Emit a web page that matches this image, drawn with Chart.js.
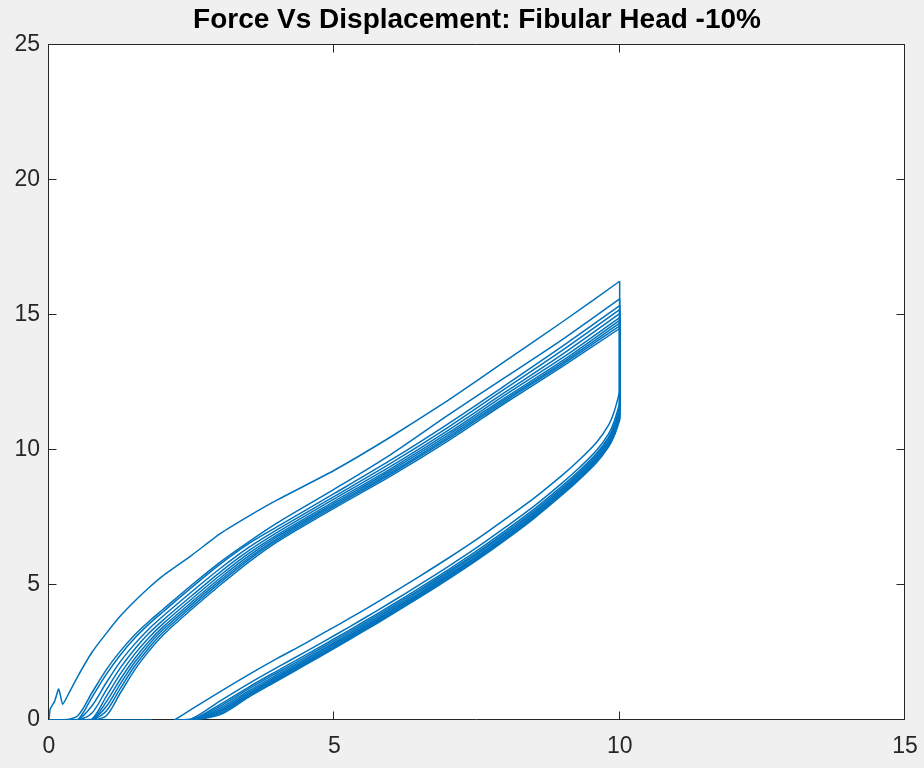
<!DOCTYPE html>
<html><head><meta charset="utf-8">
<script src="https://cdn.jsdelivr.net/npm/chart.js@4.4.0/dist/chart.umd.min.js"></script>
<style>html,body{margin:0;padding:0;background:#f0f0f0;}canvas{display:block;}</style>
</head><body>
<canvas id="c" width="924" height="768"></canvas>
<script>
const titleText = 'Force Vs Displacement: Fibular Head -10%';
const xTicks = [0, 5, 10, 15];
const yTicks = [0, 5, 10, 15, 20, 25];

// flat zero-force segment along the bottom
const zeroX = [0, 1.8];
const zeroY = [0, 0];

// cycle 1 loading (own x values, includes the initial spike)
const load1X = [0, 0.02, 0.1, 0.17, 0.24, 0.35, 0.5, 0.75, 1, 1.25, 1.5, 1.75, 2, 2.5, 3, 3.5, 4, 5, 6, 7, 8, 9, 10];
const load1Y = [0, 0.4, 0.7, 1.15, 0.58, 1.0, 1.6, 2.5, 3.2, 3.85, 4.4, 4.9, 5.35, 6.1, 6.9, 7.55, 8.15, 9.25, 10.5, 11.85, 13.3, 14.75, 16.25];

// loading branch, cycles 2-10 (common displacement grid)
const loadX   = [0, 0.25, 0.5, 0.75, 1, 1.25, 1.5, 1.75, 2, 2.5, 3, 3.5, 4, 5, 6, 7, 8, 9, 10];
const loadY2  = [0, 0, 0.15, 1.0, 1.85, 2.55, 3.15, 3.65, 4.1, 5.0, 5.85, 6.6, 7.3, 8.55, 9.85, 11.3, 12.7, 14.1, 15.6];
const loadY3  = [0, 0, 0, 0.83, 1.68, 2.41, 3.03, 3.55, 4.01, 4.91, 5.77, 6.53, 7.16, 8.39, 9.64, 10.98, 12.4, 13.85, 15.35];
const loadY4  = [0, 0, 0, 0.52, 1.37, 2.16, 2.81, 3.37, 3.85, 4.75, 5.61, 6.39, 7.05, 8.28, 9.52, 10.85, 12.28, 13.7, 15.2];
const loadY5  = [0, 0, 0, 0.25, 1.10, 1.93, 2.62, 3.21, 3.70, 4.60, 5.48, 6.27, 6.95, 8.19, 9.41, 10.74, 12.15, 13.55, 15.05];
const loadY6  = [0, 0, 0, 0.03, 0.86, 1.71, 2.44, 3.05, 3.57, 4.48, 5.36, 6.17, 6.86, 8.10, 9.32, 10.64, 12.05, 13.42, 14.9];
const loadY7  = [0, 0, 0, 0, 0.66, 1.51, 2.27, 2.91, 3.45, 4.37, 5.26, 6.08, 6.79, 8.03, 9.25, 10.56, 11.95, 13.31, 14.8];
const loadY8  = [0, 0, 0, 0, 0.49, 1.34, 2.13, 2.79, 3.35, 4.28, 5.17, 6.00, 6.72, 7.97, 9.18, 10.49, 11.88, 13.24, 14.7];
const loadY9  = [0, 0, 0, 0, 0.32, 1.17, 1.99, 2.67, 3.25, 4.19, 5.09, 5.93, 6.66, 7.91, 9.12, 10.42, 11.82, 13.17, 14.6];
const loadY10 = [0, 0, 0, 0, 0.15, 1.00, 1.85, 2.55, 3.15, 4.10, 5.00, 5.85, 6.60, 7.85, 9.05, 10.35, 11.75, 13.10, 14.5];

// unloading branch, cycles 1-10 (common displacement grid, decreasing)
const unloadX   = [10, 9.9, 9.8, 9.6, 9.3, 9, 8.5, 8, 7.5, 7, 6.5, 6, 5.5, 5, 4.5, 4, 3.5, 3, 2.5, 2.2];
const unloadY1  = [12.15, 11.4, 10.9, 10.3, 9.65, 9.08, 8.22, 7.45, 6.7, 6.0, 5.33, 4.68, 4.05, 3.45, 2.85, 2.28, 1.68, 1.05, 0.4, 0];
const unloadY2  = [11.73, 11.04, 10.58, 10.0, 9.36, 8.79, 7.92, 7.14, 6.39, 5.69, 5.02, 4.37, 3.74, 3.13, 2.53, 1.95, 1.35, 0.71, 0.05, 0];
const unloadY3  = [11.57, 10.91, 10.46, 9.89, 9.25, 8.68, 7.81, 7.02, 6.27, 5.57, 4.90, 4.25, 3.62, 3.01, 2.41, 1.82, 1.22, 0.58, 0, 0];
const unloadY4  = [11.48, 10.82, 10.39, 9.82, 9.18, 8.61, 7.74, 6.95, 6.20, 5.50, 4.83, 4.18, 3.55, 2.94, 2.34, 1.75, 1.15, 0.51, 0, 0];
const unloadY5  = [11.39, 10.75, 10.32, 9.76, 9.12, 8.55, 7.68, 6.89, 6.14, 5.44, 4.77, 4.12, 3.49, 2.87, 2.27, 1.68, 1.08, 0.44, 0, 0];
const unloadY6  = [11.32, 10.69, 10.27, 9.71, 9.07, 8.50, 7.63, 6.83, 6.08, 5.38, 4.71, 4.06, 3.43, 2.82, 2.22, 1.62, 1.02, 0.38, 0, 0];
const unloadY7  = [11.26, 10.64, 10.22, 9.66, 9.03, 8.46, 7.58, 6.79, 6.04, 5.34, 4.67, 4.02, 3.39, 2.77, 2.17, 1.57, 0.97, 0.33, 0, 0];
const unloadY8  = [11.20, 10.59, 10.18, 9.63, 8.99, 8.42, 7.55, 6.75, 6.00, 5.30, 4.63, 3.98, 3.35, 2.73, 2.13, 1.53, 0.93, 0.29, 0, 0];
const unloadY9  = [11.15, 10.55, 10.14, 9.59, 8.96, 8.39, 7.51, 6.71, 5.96, 5.26, 4.59, 3.94, 3.31, 2.69, 2.09, 1.49, 0.89, 0.24, 0, 0];
const unloadY10 = [11.10, 10.50, 10.10, 9.55, 8.92, 8.35, 7.47, 6.67, 5.92, 5.22, 4.55, 3.90, 3.27, 2.65, 2.05, 1.45, 0.85, 0.20, 0, 0];

const cycles = [
  [load1X, load1Y, unloadY1],
  [loadX, loadY2, unloadY2],
  [loadX, loadY3, unloadY3],
  [loadX, loadY4, unloadY4],
  [loadX, loadY5, unloadY5],
  [loadX, loadY6, unloadY6],
  [loadX, loadY7, unloadY7],
  [loadX, loadY8, unloadY8],
  [loadX, loadY9, unloadY9],
  [loadX, loadY10, unloadY10]
];

const LINE = '#0072BD';
const AXIS = '#262626';
const FONT = "'Liberation Sans', Arial, Helvetica, sans-serif";
const LW = 1.5;

const pts = (xs, ys) => xs.map((x, i) => ({x: x, y: ys[i]}));
const lineDs = (data, tension) => ({
  data: data, borderColor: LINE, borderWidth: LW, pointRadius: 0,
  showLine: true, tension: tension, fill: false
});
const datasets = [];
cycles.forEach(([lx, ly, uy], k) => {
  datasets.push(lineDs(pts(lx, ly), k === 0 ? 0.15 : 0.3));
  // vertical drop at the end of loading
  datasets.push(lineDs([{x: lx[lx.length - 1], y: ly[ly.length - 1]}, {x: unloadX[0], y: uy[0]}], 0));
  datasets.push(lineDs(pts(unloadX, uy), 0.3));
});
datasets.push(lineDs(pts(zeroX, zeroY), 0));

const frame = {
  id: 'frame',
  beforeDraw(chart) {
    const {ctx, chartArea: a} = chart;
    ctx.save();
    ctx.fillStyle = '#f0f0f0';
    ctx.fillRect(0, 0, chart.width, chart.height);
    ctx.fillStyle = '#ffffff';
    ctx.fillRect(a.left, a.top, a.right - a.left, a.bottom - a.top);
    ctx.restore();
  },
  beforeDatasetsDraw(chart) {
    const {ctx, chartArea: a, scales} = chart;
    const L = Math.round(a.left) - 0.5, R = Math.round(a.right) - 0.5;
    const T = Math.round(a.top) - 0.5, B = Math.round(a.bottom) - 0.5;
    const tl = 8;
    ctx.save();
    ctx.strokeStyle = AXIS;
    ctx.lineWidth = 1;
    ctx.beginPath();
    ctx.rect(L, T, R - L, B - T);
    xTicks.forEach(v => {
      const px = Math.round(scales.x.getPixelForValue(v)) - 0.5;
      ctx.moveTo(px, B); ctx.lineTo(px, B - tl);
      ctx.moveTo(px, T); ctx.lineTo(px, T + tl);
    });
    yTicks.forEach(v => {
      const py = Math.round(scales.y.getPixelForValue(v)) - 0.5;
      ctx.moveTo(L, py); ctx.lineTo(L + tl, py);
      ctx.moveTo(R, py); ctx.lineTo(R - tl, py);
    });
    ctx.stroke();
    ctx.restore();
  }
};

new Chart(document.getElementById('c'), {
  type: 'scatter',
  data: {datasets: datasets},
  options: {
    responsive: false,
    animation: false,
    devicePixelRatio: 1,
    layout: {padding: {left: 0, right: 19, top: 0, bottom: 0}},
    plugins: {
      legend: {display: false},
      tooltip: {enabled: false},
      title: {
        display: true, text: titleText, fullSize: false, color: '#000',
        font: {family: FONT, size: 28, weight: 'bold', lineHeight: 1.2},
        padding: {top: 3, bottom: 8.4}
      }
    },
    scales: {
      x: {
        type: 'linear', min: 0, max: 15,
        afterBuildTicks: s => { s.ticks = xTicks.map(v => ({value: v})); },
        afterFit: s => { s.height = 48; s.paddingLeft = 0; s.paddingRight = 0; },
        grid: {display: false, drawTicks: false},
        border: {display: false},
        ticks: {color: AXIS, padding: 13, font: {family: FONT, size: 23}, maxRotation: 0}
      },
      y: {
        type: 'linear', min: 0, max: 25,
        afterBuildTicks: s => { s.ticks = yTicks.map(v => ({value: v})); },
        afterFit: s => { s.width = 49; },
        grid: {display: false, drawTicks: false},
        border: {display: false},
        ticks: {color: AXIS, padding: 9, font: {family: FONT, size: 23}}
      }
    }
  },
  plugins: [frame]
});
</script>
</body></html>
